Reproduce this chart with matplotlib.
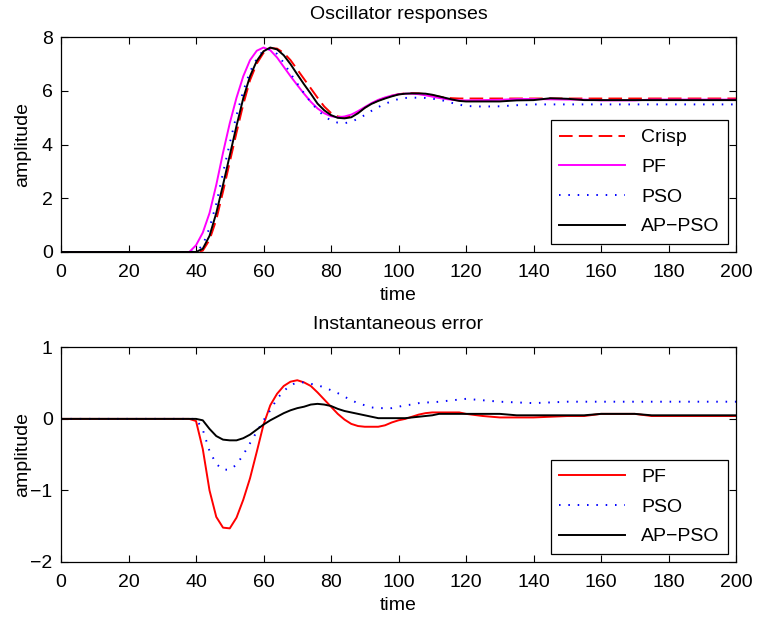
import matplotlib
matplotlib.use("Agg")
import matplotlib.pyplot as plt

plt.rcParams['font.family'] = ['Liberation Sans', 'DejaVu Sans']
plt.rcParams['font.size'] = 14

# time grid (coarse away from the transient)
t = [0, 10, 20, 30, 36, 38,
     40, 42, 44, 46, 48, 50, 52, 54, 56, 58,
     60, 62, 64, 66, 68, 70, 72, 74, 76, 78,
     80, 82, 84, 86, 88, 90, 92, 94, 96, 98,
     100, 102, 104, 106, 108, 110, 112, 114, 116, 118,
     120, 125, 130, 135, 140, 145, 150, 155, 160, 165,
     170, 175, 180, 185, 190, 195, 200]

# oscillator responses
crisp = [0, 0, 0, 0, 0, 0,
         0.0, 0.05, 0.45, 1.2, 2.25, 3.35, 4.45, 5.5, 6.4, 7.02,
         7.42, 7.6, 7.58, 7.42, 7.15, 6.8, 6.45, 6.1, 5.75, 5.42,
         5.18, 5.05, 5.02, 5.06, 5.2, 5.38, 5.53, 5.65, 5.74, 5.82,
         5.88, 5.91, 5.92, 5.91, 5.88, 5.84, 5.79, 5.75, 5.73, 5.72,
         5.72, 5.72, 5.72, 5.72, 5.72, 5.72, 5.72, 5.72, 5.72, 5.72,
         5.72, 5.72, 5.72, 5.72, 5.72, 5.72, 5.72]
pf = [0, 0, 0, 0, 0, 0,
      0.25, 0.72, 1.45, 2.5, 3.7, 4.8, 5.75, 6.55, 7.15, 7.5,
      7.62, 7.52, 7.25, 6.9, 6.55, 6.22, 5.9, 5.6, 5.35, 5.17,
      5.06, 5.02, 5.05, 5.12, 5.25, 5.4, 5.55, 5.67, 5.76, 5.83,
      5.88, 5.9, 5.9, 5.88, 5.84, 5.79, 5.74, 5.7, 5.67, 5.65,
      5.65, 5.66, 5.67, 5.7, 5.7, 5.69, 5.68, 5.68, 5.65, 5.65,
      5.65, 5.68, 5.68, 5.68, 5.68, 5.68, 5.68]
pso = [0, 0, 0, 0, 0, 0,
       0.02, 0.25, 0.9, 1.8, 2.95, 4.05, 5.1, 6.0, 6.72, 7.2,
       7.52, 7.58, 7.38, 7.05, 6.65, 6.28, 5.92, 5.58, 5.3, 5.06,
       4.9, 4.82, 4.8, 4.85, 4.97, 5.1, 5.26, 5.4, 5.52, 5.62,
       5.7, 5.74, 5.75, 5.75, 5.74, 5.71, 5.68, 5.62, 5.55, 5.49,
       5.44, 5.42, 5.43, 5.47, 5.5, 5.5, 5.5, 5.5, 5.5, 5.5,
       5.5, 5.5, 5.5, 5.5, 5.5, 5.5, 5.5]
appso = [0, 0, 0, 0, 0, 0,
         0.0, 0.12, 0.6, 1.45, 2.5, 3.6, 4.7, 5.73, 6.55, 7.12,
         7.48, 7.62, 7.55, 7.33, 7.0, 6.62, 6.25, 5.9, 5.53, 5.28,
         5.1, 5.0, 4.98, 5.02, 5.17, 5.37, 5.52, 5.63, 5.72, 5.8,
         5.87, 5.9, 5.91, 5.91, 5.9, 5.86, 5.8, 5.74, 5.68, 5.63,
         5.61, 5.61, 5.61, 5.65, 5.66, 5.73, 5.71, 5.66, 5.66, 5.66,
         5.66, 5.66, 5.66, 5.66, 5.66, 5.66, 5.66]

# instantaneous errors
err_pf = [0, 0, 0, 0, 0, 0,
          -0.03, -0.42, -1.0, -1.37, -1.52, -1.53, -1.38, -1.13, -0.83, -0.46,
          -0.08, 0.19, 0.35, 0.46, 0.52, 0.54, 0.51, 0.46, 0.37, 0.27,
          0.17, 0.07, -0.01, -0.07, -0.1, -0.11, -0.11, -0.11, -0.09, -0.05,
          -0.02, 0.0, 0.03, 0.06, 0.08, 0.09, 0.09, 0.09, 0.09, 0.09,
          0.07, 0.04, 0.02, 0.02, 0.02, 0.03, 0.04, 0.04, 0.07, 0.07,
          0.07, 0.04, 0.04, 0.04, 0.04, 0.04, 0.04]
err_pso = [0, 0, 0, 0, 0, 0,
           0.0, -0.15, -0.45, -0.63, -0.71, -0.71, -0.64, -0.5, -0.34, -0.18,
           -0.02, 0.12, 0.28, 0.39, 0.47, 0.51, 0.51, 0.49, 0.47, 0.44,
           0.4, 0.36, 0.31, 0.26, 0.22, 0.19, 0.16, 0.15, 0.15, 0.15,
           0.17, 0.19, 0.2, 0.22, 0.23, 0.23, 0.24, 0.25, 0.26, 0.27,
           0.28, 0.26, 0.24, 0.23, 0.22, 0.23, 0.24, 0.24, 0.24, 0.24,
           0.24, 0.24, 0.24, 0.24, 0.24, 0.24, 0.24]
err_appso = [0, 0, 0, 0, 0, 0,
             0.0, -0.02, -0.14, -0.24, -0.29, -0.3, -0.3, -0.27, -0.22, -0.15,
             -0.08, -0.02, 0.03, 0.08, 0.12, 0.15, 0.17, 0.2, 0.21, 0.2,
             0.18, 0.14, 0.11, 0.09, 0.07, 0.05, 0.03, 0.01, 0.01, 0.01,
             0.01, 0.01, 0.02, 0.03, 0.04, 0.05, 0.07, 0.07, 0.07, 0.07,
             0.07, 0.07, 0.07, 0.05, 0.05, 0.05, 0.05, 0.05, 0.07, 0.07,
             0.07, 0.05, 0.05, 0.05, 0.05, 0.05, 0.05]

LW = 1.4
DASH = (7.0, 3.2)
DOT = (0.8, 4.0)

fig = plt.figure(figsize=(7.59, 6.19), dpi=100)
ax1 = fig.add_axes([0.0804, 0.5929, 0.8893, 0.3468])
ax2 = fig.add_axes([0.0804, 0.0921, 0.8893, 0.3468])

ax1.plot(t, crisp, color='#ff0000', lw=LW, dashes=DASH, label='Crisp')
ax1.plot(t, pf, color='#ff00ff', lw=LW, label='PF')
ax1.plot(t, pso, color='#0000ff', lw=LW, dashes=DOT, label='PSO')
ax1.plot(t, appso, color='black', lw=LW, label='AP\u2212PSO')
ax1.set_ylim(0, 8)
ax1.set_yticks([0, 2, 4, 6, 8])
ax1.set_title('Oscillator responses', fontsize=14, pad=13)

ax2.plot(t, err_pf, color='#ff0000', lw=LW, label='PF')
ax2.plot(t, err_pso, color='#0000ff', lw=LW, dashes=DOT, label='PSO')
ax2.plot(t, err_appso, color='black', lw=LW, label='AP\u2212PSO')
ax2.set_ylim(-2, 1)
ax2.set_yticks([-2, -1, 0, 1])
ax2.set_title('Instantaneous error', fontsize=14, pad=13)

for ax in (ax1, ax2):
    ax.set_xlim(0, 200)
    ax.set_xticks(range(0, 201, 20))
    ax.set_xlabel('time', labelpad=4)
    ax.set_ylabel('amplitude')
    ax.yaxis.set_label_coords(-0.045, 0.5)
    ax.tick_params(direction='in', top=True, right=True, length=5,
                   width=0.8, labelsize=14)
    ax.tick_params(axis='x', pad=9)
    ax.tick_params(axis='y', pad=6)
    for s in ax.spines.values():
        s.set_linewidth(0.9)
    leg = ax.legend(loc='lower right', fancybox=False, framealpha=1,
                    edgecolor='black', fontsize=14, handlelength=3.4,
                    borderaxespad=0.4, labelspacing=0.62, borderpad=0.45)
    leg.get_frame().set_linewidth(0.9)

fig.savefig('out.png', dpi=100)
